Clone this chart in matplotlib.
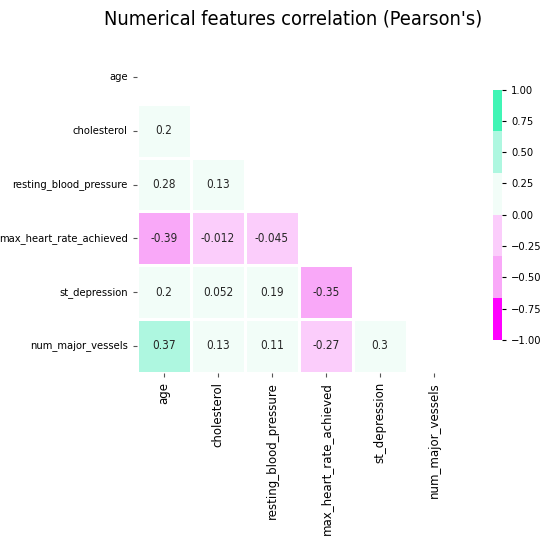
import numpy as np
import matplotlib
matplotlib.use("Agg")
import matplotlib.pyplot as plt
from matplotlib.colors import ListedColormap
import seaborn as sns

features = ["age", "cholesterol", "resting_blood_pressure",
            "max_heart_rate_achieved", "st_depression", "num_major_vessels"]

# lower triangle values (row by row)
row_chol = [0.2]
row_rbp = [0.28, 0.13]
row_mhr = [-0.39, -0.012, -0.045]
row_std = [0.2, 0.052, 0.19, -0.35]
row_nmv = [0.37, 0.13, 0.11, -0.27, 0.3]

n = len(features)
corr = np.eye(n)
for i, row in enumerate([row_chol, row_rbp, row_mhr, row_std, row_nmv], start=1):
    for j, v in enumerate(row):
        corr[i, j] = v
        corr[j, i] = v

mask = np.triu(np.ones_like(corr, dtype=bool))

colores = ["#ff00ff", "#f9a8f8", "#fbcdfb", "#f2fdf8", "#aef7e0", "#40f5b5"]
cmap = ListedColormap(colores)

plt.rcParams['font.family'] = ['DejaVu Sans']
plt.rcParams['font.stretch'] = 'condensed'

fig = plt.figure(figsize=(5.43, 5.5), dpi=100)
ax = fig.add_axes([0.252, 0.322, 0.597, 0.587])
cax = fig.add_axes([0.908, 0.382, 0.017, 0.455])

sns.heatmap(corr, mask=mask, cmap=cmap, vmin=-1, vmax=1, annot=True,
            annot_kws={"size": 8.5, "color": "#262626"},
            linewidths=1, linecolor="white", square=False,
            xticklabels=features, yticklabels=features,
            ax=ax, cbar_ax=cax)

ax.tick_params(axis="both", length=3, color="#555555")
plt.setp(ax.get_xticklabels(), rotation=90, fontsize=8.5, fontstretch='normal')
plt.setp(ax.get_yticklabels(), rotation=0, fontsize=8)

cax.tick_params(labelsize=8, length=3)
cax.set_yticks([-1, -0.75, -0.5, -0.25, 0, 0.25, 0.5, 0.75, 1])
cax.set_yticklabels(["\u22121.00", "\u22120.75", "\u22120.50", "\u22120.25",
                     "0.00", "0.25", "0.50", "0.75", "1.00"])
for s in cax.spines.values():
    s.set_visible(False)

fig.text(0.54, 0.965, "Numerical features correlation (Pearson's)",
         ha="center", va="center", fontsize=14.3)

fig.savefig("out.png", dpi=100)
